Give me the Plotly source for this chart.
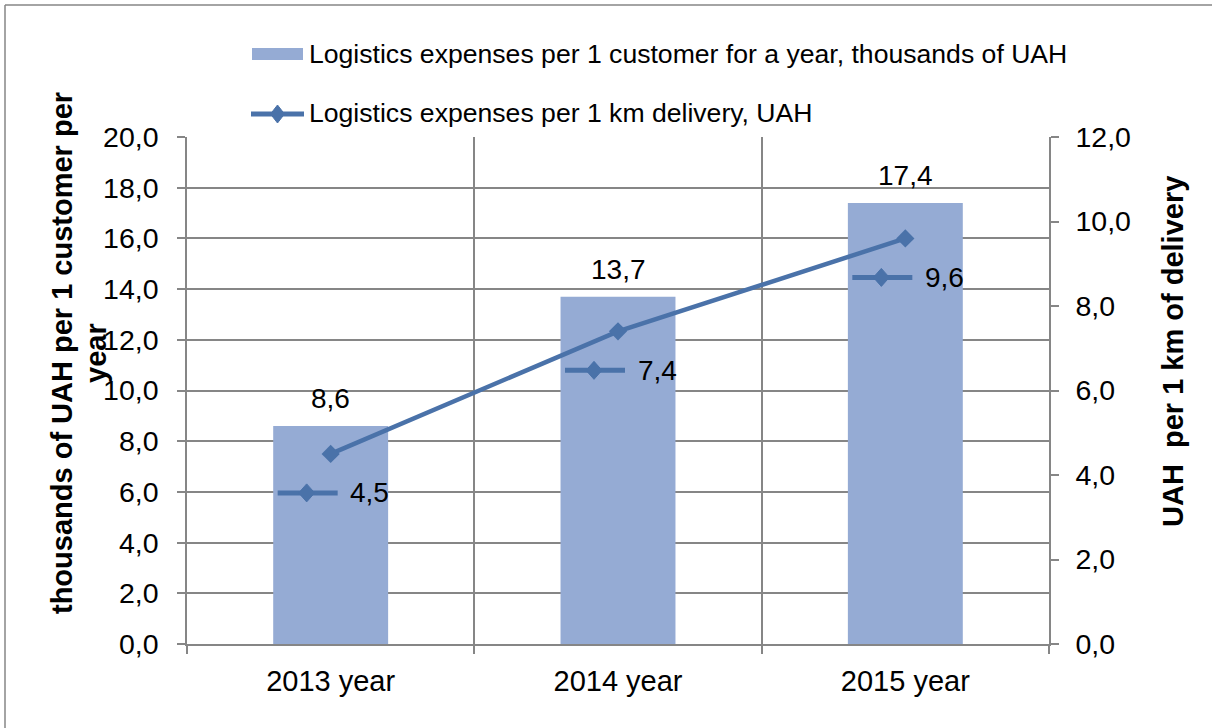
"""Logistics expenses: bars per customer (left axis) and line per km (right axis)."""

import plotly.graph_objects as go

years = ["2013 year", "2014 year", "2015 year"]
cost_per_customer = [8.6, 13.7, 17.4]  # thousands of UAH
cost_per_km = [4.5, 7.4, 9.6]  # UAH

BAR_NAME = "Logistics expenses per 1 customer for a year, thousands of UAH"
LINE_NAME = "Logistics expenses per 1 km delivery, UAH"
LEFT_TITLE = ["thousands of UAH per 1 customer per", "year"]
RIGHT_TITLE = "UAH\u00a0 per 1 km of delivery"

BAR_COLOR = "#95abd4"
LINE_COLOR = "#4a72a9"
GRID = "#868686"
FONT = "Liberation Sans, Arial, sans-serif"

W, H = 1212, 728
L, R, T, B = 187, 163, 137, 84
PW, PH = W - L - R, H - T - B


def px_x(p):
    return (p - L) / PW


def px_y(p):
    return (H - B - p) / PH


def fmt(v):
    return f"{v:.1f}".replace(".", ",")


fig = go.Figure()
fig.add_trace(go.Bar(
    x=years, y=cost_per_customer,
    name=BAR_NAME,
    marker_color=BAR_COLOR,
    marker_line_width=0,
    width=0.4,
    yaxis="y",
))
fig.add_trace(go.Scatter(
    x=years, y=cost_per_km,
    name=LINE_NAME,
    mode="lines+markers",
    line=dict(color=LINE_COLOR, width=4.5),
    marker=dict(symbol="diamond", size=14, color=LINE_COLOR),
    yaxis="y2",
))

shapes = []
annotations = []

# bar value labels
for cat, v in zip(years, cost_per_customer):
    annotations.append(dict(
        x=cat, y=v, xref="x", yref="y", yshift=27,
        text=fmt(v), showarrow=False,
        font=dict(size=28, color="black", family=FONT),
    ))

# line value labels with a small legend key in front
for cat, v in zip(years, cost_per_km):
    shapes.append(dict(
        type="line", xref="x", yref="y2",
        xsizemode="pixel", ysizemode="pixel",
        xanchor=cat, yanchor=v,
        x0=-53, x1=7, y0=-39, y1=-39,
        line=dict(color=LINE_COLOR, width=5),
    ))
    shapes.append(dict(
        type="path", xref="x", yref="y2",
        xsizemode="pixel", ysizemode="pixel",
        xanchor=cat, yanchor=v,
        path="M-24,-30 L-16,-39 L-24,-48 L-32,-39 Z",
        fillcolor=LINE_COLOR, line=dict(color=LINE_COLOR, width=1),
    ))
    annotations.append(dict(
        x=cat, y=v, xref="x", yref="y2", xshift=39, yshift=-39,
        text=fmt(v), showarrow=False,
        font=dict(size=28, color="black", family=FONT),
    ))

# legend drawn by hand (Excel style: wide swatches, roomy rows)
shapes.append(dict(
    type="rect", xref="paper", yref="paper",
    x0=px_x(252), x1=px_x(303), y0=px_y(60), y1=px_y(48),
    fillcolor=BAR_COLOR, line=dict(width=0),
))
shapes.append(dict(
    type="line", xref="paper", yref="paper",
    x0=px_x(251), x1=px_x(304), y0=px_y(114), y1=px_y(114),
    line=dict(color=LINE_COLOR, width=5),
))
shapes.append(dict(
    type="path", xref="paper", yref="paper",
    xsizemode="pixel", ysizemode="pixel",
    xanchor=px_x(277.5), yanchor=px_y(114),
    path="M0,9 L7,0 L0,-9 L-7,0 Z",
    fillcolor=LINE_COLOR, line=dict(color=LINE_COLOR, width=1),
))
for name, yc in [(BAR_NAME, 54), (LINE_NAME, 113)]:
    annotations.append(dict(
        x=px_x(307), y=px_y(yc), xref="paper", yref="paper",
        xanchor="left", yanchor="middle",
        text=name, showarrow=False,
        font=dict(size=26.6, color="black", family=FONT),
    ))

# axis titles (left one split in two lines, Excel wrap)
for line_text, xc in zip(LEFT_TITLE, [62, 96]):
    annotations.append(dict(
        x=px_x(xc), y=px_y(353), xref="paper", yref="paper",
        xanchor="center", yanchor="middle",
        text=line_text, textangle=-90, showarrow=False,
        font=dict(size=29, color="black", family=FONT, weight="bold"),
    ))
annotations.append(dict(
    x=px_x(1173), y=px_y(352), xref="paper", yref="paper",
    xanchor="center", yanchor="middle",
    text=RIGHT_TITLE, textangle=-90, showarrow=False,
    font=dict(size=29, color="black", family=FONT, weight="bold"),
))

# outer chart border (top and left edges visible)
shapes.append(dict(
    type="line", xref="paper", yref="paper",
    x0=px_x(5), x1=px_x(1215), y0=px_y(5), y1=px_y(5),
    line=dict(color=GRID, width=1.5),
))
shapes.append(dict(
    type="line", xref="paper", yref="paper",
    x0=px_x(5), x1=px_x(5), y0=px_y(5), y1=px_y(732),
    line=dict(color=GRID, width=1.5),
))

axis_common = dict(
    ticks="outside", ticklen=8, tickwidth=1.5, tickcolor=GRID,
    showline=True, linecolor=GRID, linewidth=1.5,
    zeroline=False,
)

fig.update_layout(
    width=W, height=H,
    margin=dict(l=L, r=R, t=T, b=B),
    paper_bgcolor="white",
    plot_bgcolor="white",
    separators=", ",
    showlegend=False,
    font=dict(family=FONT, color="black"),
    xaxis=dict(
        type="category",
        tickson="boundaries",
        showgrid=True, gridcolor=GRID, gridwidth=1.5,
        tickfont=dict(size=29, color="black", family=FONT),
        ticklabelstandoff=10,
        **axis_common,
    ),
    yaxis=dict(
        range=[0, 20], dtick=2, tickformat=".1f",
        showgrid=True, gridcolor=GRID, gridwidth=1.5,
        tickfont=dict(size=28.5, color="black", family=FONT),
        ticklabelstandoff=13,
        **axis_common,
    ),
    yaxis2=dict(
        range=[0, 12], dtick=2, tickformat=".1f",
        overlaying="y", side="right", showgrid=False,
        tickfont=dict(size=28.5, color="black", family=FONT),
        ticklabelstandoff=11,
        **axis_common,
    ),
    shapes=shapes,
    annotations=annotations,
)

fig.write_html(
    "out.html",
    config={"displayModeBar": False},
    post_script="document.body.style.margin='0';",
)
